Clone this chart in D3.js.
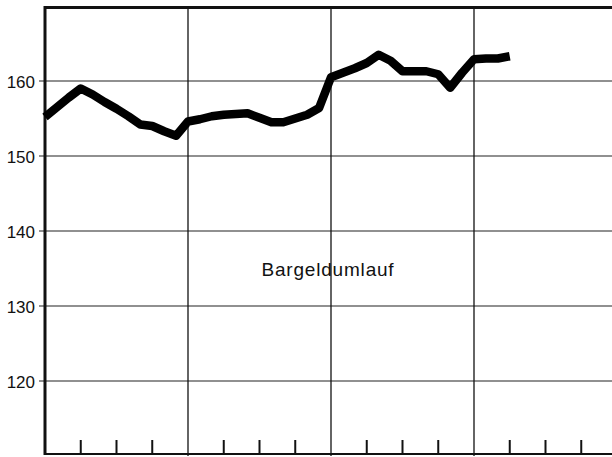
<!DOCTYPE html>
<html>
<head>
<meta charset="utf-8">
<script src="https://cdn.jsdelivr.net/npm/d3@7"></script>
<style>
  body { margin: 0; background: #fff; }
  svg { display: block; }
  text { font-family: "Liberation Sans", Arial, Helvetica, sans-serif; fill: #111; }
</style>
</head>
<body>
<div id="viz"></div>
<script>
// Bargeldumlauf, monthly values (index 0 = first month of the first year)
var bargeld = [
  155.2, 156.5, 157.8, 159.0, 158.2, 157.2, 156.3, 155.3, 154.2, 154.0,
  153.3, 152.7, 154.6, 154.9, 155.3, 155.5, 155.6, 155.7, 155.1, 154.5,
  154.5, 155.0, 155.5, 156.4, 160.5, 161.1, 161.7, 162.4, 163.5, 162.7,
  161.3, 161.3, 161.3, 160.9, 159.1, 161.1, 162.9, 163.0, 163.0, 163.3
]
var yTicks = [120, 130, 140, 150, 160]
var years = [0, 1, 2, 3, 4]       // year boundaries (in years)
var quarterTicks = [3, 6, 9]      // months within a year

var width = 612, height = 457

var x = d3.scaleLinear().domain([0, 48]).range([45, 617])
var y = d3.scaleLinear().domain([110, 170]).range([456, 6])

var svg = d3.select("#viz")
  .append("svg")
  .attr("width", width)
  .attr("height", height)

// horizontal grid lines
svg.append("g")
  .selectAll("line")
  .data(yTicks)
  .enter()
  .append("line")
  .attr("x1", x(0) - 6)
  .attr("x2", width)
  .attr("y1", d => y(d))
  .attr("y2", d => y(d))
  .attr("stroke", "#222")
  .attr("stroke-width", 1.2)

// vertical year lines
svg.append("g")
  .selectAll("line")
  .data(years.slice(1))
  .enter()
  .append("line")
  .attr("x1", d => x(d * 12))
  .attr("x2", d => x(d * 12))
  .attr("y1", y(170))
  .attr("y2", y(110))
  .attr("stroke", "#111")
  .attr("stroke-width", 1.3)

// quarter ticks on the bottom
var qt = []
years.slice(0, 4).forEach(yr => quarterTicks.forEach(m => qt.push(yr * 12 + m)))
svg.append("g")
  .selectAll("line")
  .data(qt)
  .enter()
  .append("line")
  .attr("x1", d => x(d))
  .attr("x2", d => x(d))
  .attr("y1", 440)
  .attr("y2", 454)
  .attr("stroke", "#111")
  .attr("stroke-width", 2)

// frame: top, left, bottom
svg.append("line")
  .attr("x1", x(0)).attr("x2", width)
  .attr("y1", y(170) + 1.5).attr("y2", y(170) + 1.5)
  .attr("stroke", "#111").attr("stroke-width", 3)
svg.append("line")
  .attr("x1", x(0)).attr("x2", x(0))
  .attr("y1", y(170)).attr("y2", 455)
  .attr("stroke", "#111").attr("stroke-width", 3)
svg.append("line")
  .attr("x1", x(0)).attr("x2", width)
  .attr("y1", 454).attr("y2", 454)
  .attr("stroke", "#111").attr("stroke-width", 2)

// y labels
svg.append("g")
  .selectAll("text")
  .data(yTicks)
  .enter()
  .append("text")
  .attr("x", 35)
  .attr("y", d => y(d) + 7)
  .attr("text-anchor", "end")
  .style("font-size", "17px")
  .text(d => d)

// the series
var line = d3.line()
  .x((d, i) => x(i))
  .y(d => y(d))

svg.append("path")
  .datum(bargeld)
  .attr("d", line)
  .attr("fill", "none")
  .attr("stroke", "#000")
  .attr("stroke-width", 8.5)
  .attr("stroke-linejoin", "round")
  .attr("stroke-linecap", "butt")

svg.append("text")
  .attr("x", 328)
  .attr("y", 276)
  .attr("text-anchor", "middle")
  .style("font-size", "19px")
  .style("letter-spacing", "0.8px")
  .text("Bargeldumlauf")
</script>
</body>
</html>
